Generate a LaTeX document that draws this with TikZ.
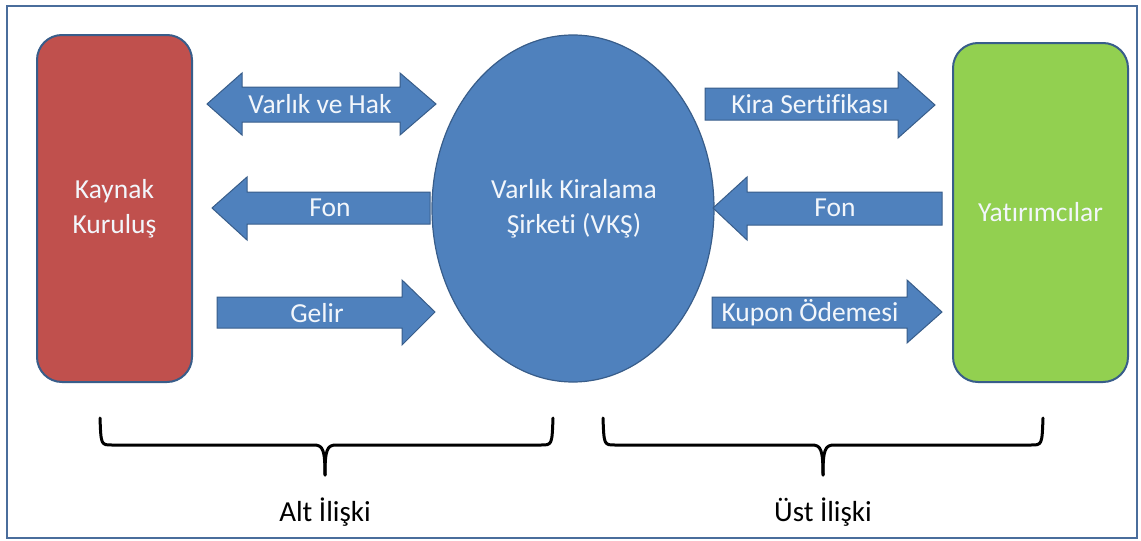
\documentclass[tikz,border=0pt]{standalone}
\usepackage{fontspec}
\setmainfont{Carlito}[Ligatures={NoCommon}]
\usetikzlibrary{shapes.geometric}
\definecolor{boxred}{HTML}{C0504D}
\definecolor{boxgreen}{HTML}{92D050}
\definecolor{boxblue}{HTML}{4F81BD}
\definecolor{edgeblue}{HTML}{385D8A}
\definecolor{framecol}{HTML}{4A6D9C}
\definecolor{lighttext}{HTML}{F2F6FB}
\tikzset{
  blk/.style={fill=boxblue, draw=edgeblue, line width=1pt, line join=miter},
  bigbox/.style={draw=edgeblue, line width=2pt, rounded corners=25pt, inner sep=0pt},
  wtxt/.style={text=lighttext, font=\fontsize{27.5}{35}\selectfont, align=center, inner sep=0pt},
  btxt/.style={text=black, font=\fontsize{29}{35}\selectfont, inner sep=0pt},
  brace/.style={draw=black, line width=3pt, line cap=round, line join=round}
}
\begin{document}
\begin{tikzpicture}[x=1pt,y=-1pt]
\useasboundingbox (0,0) rectangle (1141,541);
\draw[framecol, line width=2pt] (7,6) rectangle (1137,538);

% main shapes
\node[bigbox, fill=boxred, minimum width=155pt, minimum height=347pt] (kaynak) at (114.5,208.5) {};
\node[bigbox, fill=boxgreen, minimum width=175pt, minimum height=339pt] (yatirim) at (1040.5,212.5) {};
\node[ellipse, draw=edgeblue, line width=1.2pt, fill=boxblue, minimum width=282pt, minimum height=347pt, inner sep=0pt] (vks) at (573,208.5) {};

\node[wtxt] (kaynaktxt) at (kaynak.center) {Kaynak\\Kuruluş};
\node[wtxt] (yatirimtxt) at (yatirim.center) {Yatırımcılar};
\node[wtxt] (vkstxt) at (574,209) {Varlık Kiralama\\Şirketi (VKŞ)};

% block arrows (left side)
\path[blk] (207,104) -- (242,73) -- (242,87) -- (400,87) -- (400,73) -- (436,104)
  -- (400,135) -- (400,122) -- (242,122) -- (242,135) -- cycle;
\path[blk] (212,208) -- (247,177) -- (247,192) -- (430,192) -- (430,224)
  -- (247,224) -- (247,240) -- cycle;
\path[blk] (435,312) -- (402,280) -- (402,297) -- (217,297) -- (217,328)
  -- (402,328) -- (402,345) -- cycle;
% block arrows (right side)
\path[blk] (935,105) -- (898,72) -- (898,88) -- (705,88) -- (705,120)
  -- (898,120) -- (898,138) -- cycle;
\path[blk] (713,208) -- (747,177) -- (747,192) -- (942,192) -- (942,225)
  -- (747,225) -- (747,240) -- cycle;
\path[blk] (942,312) -- (907,280) -- (907,297) -- (712,297) -- (712,328)
  -- (907,328) -- (907,343) -- cycle;

\node[wtxt] (l1) at (320,104) {Varlık ve Hak};
\node[wtxt] (l2) at (330,208) {Fon};
\node[wtxt] (l3) at (317,313) {Gelir};
\node[wtxt] (r1) at (810,104) {Kira Sertifikası};
\node[wtxt] (r2) at (835,208) {Fon};
\node[wtxt] (r3) at (810,313) {Kupon Ödemesi};

% braces
\coordinate (altL) at (100,418);
\coordinate (altR) at (553,418);
\coordinate (altT) at (325,475);
\coordinate (ustL) at (603,418);
\coordinate (ustR) at (1043,418);
\coordinate (ustT) at (823,475);
\draw[brace] (altL) .. controls (101,445) and (101,445) .. (112,445) -- (314,445)
  .. controls (323,445) and (325,450) .. (altT);
\draw[brace] (altR) .. controls (552,445) and (552,445) .. (541,445) -- (336,445)
  .. controls (327,445) and (325,450) .. (altT);
\draw[brace] (ustL) .. controls (604,445) and (604,445) .. (615,445) -- (812,445)
  .. controls (821,445) and (823,450) .. (ustT);
\draw[brace] (ustR) .. controls (1042,445) and (1042,445) .. (1031,445) -- (834,445)
  .. controls (825,445) and (823,450) .. (ustT);

\node[btxt] (alt) at (325,512) {Alt İlişki};
\node[btxt] (ust) at (823,512) {Üst İlişki};
\end{tikzpicture}
\end{document}
